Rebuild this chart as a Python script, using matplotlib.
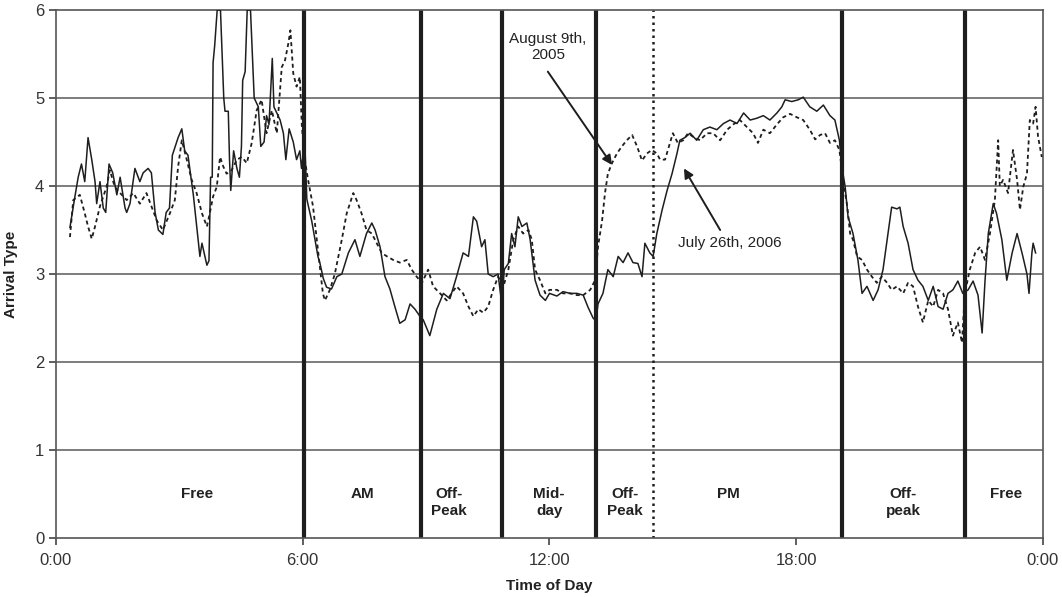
"""Arrival type by time of day, two survey days."""

import matplotlib
matplotlib.use("Agg")
import matplotlib.pyplot as plt

# July 26th, 2006 (solid)
jul_hours = [
    0.34, 0.45, 0.54, 0.62, 0.70, 0.78, 0.87, 0.95, 0.99, 1.07, 1.15, 1.21, 1.29, 1.38,
    1.48, 1.56, 1.68, 1.72, 1.80, 1.92, 2.04, 2.12, 2.24, 2.32, 2.41, 2.49, 2.60, 2.68,
    2.76, 2.83, 2.97, 3.06, 3.13, 3.21, 3.34, 3.42, 3.50, 3.55, 3.67, 3.72, 3.76, 3.80,
    3.82, 3.86, 3.92, 4.00, 4.08, 4.11, 4.19, 4.22, 4.25, 4.32, 4.40, 4.46, 4.51, 4.54,
    4.60, 4.65, 4.73, 4.82, 4.92, 4.98, 5.06, 5.12, 5.18, 5.26, 5.30, 5.45, 5.53, 5.59,
    5.67, 5.77, 5.85, 5.93, 5.97, 6.05, 6.10, 6.22, 6.37, 6.42, 6.50, 6.58, 6.70, 6.83,
    6.95, 7.11, 7.27, 7.39, 7.55, 7.68, 7.76, 7.88, 8.00, 8.12, 8.24, 8.36, 8.49, 8.61,
    8.73, 8.85, 8.93, 9.09, 9.26, 9.42, 9.58, 9.74, 9.90, 10.03, 10.15, 10.23, 10.35,
    10.43, 10.51, 10.63, 10.75, 10.84, 10.90, 11.00, 11.08, 11.16, 11.24, 11.33, 11.45,
    11.53, 11.65, 11.77, 11.90, 12.00, 12.18, 12.33, 12.50, 12.67, 12.82, 12.94, 13.06,
    13.13, 13.18, 13.30, 13.42, 13.55, 13.67, 13.79, 13.91, 14.03, 14.15, 14.25, 14.32,
    14.44, 14.52, 14.61, 14.74, 14.86, 14.98, 15.10, 15.17, 15.29, 15.42, 15.58, 15.74,
    15.90, 16.07, 16.23, 16.39, 16.56, 16.72, 16.88, 17.04, 17.20, 17.36, 17.53, 17.65,
    17.73, 17.89, 18.05, 18.17, 18.33, 18.50, 18.66, 18.82, 18.94, 19.05, 19.11, 19.19,
    19.26, 19.38, 19.50, 19.60, 19.72, 19.87, 19.99, 20.11, 20.23, 20.32, 20.45, 20.52,
    20.60, 20.72, 20.84, 20.96, 21.08, 21.21, 21.33, 21.45, 21.57, 21.69, 21.81, 21.93,
    22.05, 22.18, 22.30, 22.42, 22.52, 22.59, 22.67, 22.79, 22.87, 23.00, 23.12, 23.25,
    23.37, 23.49, 23.61, 23.66, 23.73, 23.76, 23.82,
]
jul_values = [
    3.53, 3.85, 4.10, 4.25, 4.05, 4.55, 4.30, 4.05, 3.80, 4.05, 3.75, 3.70, 4.25, 4.15,
    3.90, 4.10, 3.75, 3.70, 3.80, 4.20, 4.05, 4.15, 4.20, 4.15, 3.70, 3.50, 3.45, 3.70,
    3.75, 4.35, 4.55, 4.65, 4.40, 4.35, 3.90, 3.55, 3.20, 3.35, 3.10, 3.15, 4.10, 4.10,
    5.40, 5.60, 6.00, 6.00, 5.00, 4.85, 4.85, 4.30, 3.95, 4.40, 4.20, 4.10, 4.45, 5.20,
    5.30, 6.00, 6.00, 5.00, 4.90, 4.45, 4.50, 4.80, 4.70, 5.45, 4.90, 4.75, 4.60, 4.30,
    4.65, 4.50, 4.30, 4.40, 4.20, 4.50, 3.85, 3.60, 3.20, 3.12, 2.95, 2.85, 2.83, 2.97,
    3.00, 3.24, 3.39, 3.20, 3.46, 3.58, 3.50, 3.31, 2.97, 2.83, 2.63, 2.44, 2.48, 2.66,
    2.60, 2.52, 2.48, 2.30, 2.60, 2.78, 2.72, 2.97, 3.24, 3.20, 3.65, 3.60, 3.31,
    3.39, 3.00, 2.97, 3.00, 2.66, 3.05, 3.12, 3.46, 3.31, 3.65, 3.54, 3.58,
    3.39, 2.93, 2.76, 2.70, 2.78, 2.75, 2.80, 2.78, 2.78, 2.76, 2.62, 2.50,
    2.47, 2.66, 2.78, 3.05, 2.97, 3.20, 3.13, 3.24, 3.13, 3.12, 2.97, 3.35,
    3.24, 3.20, 3.46, 3.73, 3.95, 4.14, 4.37, 4.52, 4.55, 4.60, 4.52, 4.64,
    4.67, 4.64, 4.71, 4.75, 4.71, 4.83, 4.75, 4.77, 4.80, 4.75, 4.83, 4.90,
    4.98, 4.96, 4.98, 5.01, 4.90, 4.85, 4.92, 4.80, 4.75, 4.52, 4.22, 3.99,
    3.65, 3.46, 3.16, 2.78, 2.86, 2.70, 2.82, 3.05, 3.46, 3.76, 3.74, 3.76,
    3.54, 3.35, 3.05, 2.93, 2.86, 2.70, 2.86, 2.63, 2.60, 2.78, 2.82, 2.92,
    2.78, 2.82, 2.92, 2.76, 2.33, 2.92, 3.46, 3.80, 3.69, 3.39, 2.93, 3.24,
    3.46, 3.24, 3.00, 2.78, 3.24, 3.35, 3.24,
]

# August 9th, 2005 (dashed)
aug_hours = [
    0.34, 0.42, 0.58, 0.70, 0.78, 0.87, 0.95, 1.07, 1.23, 1.31, 1.43, 1.56, 1.72, 1.88,
    2.04, 2.20, 2.32, 2.45, 2.60, 2.77, 2.89, 2.97, 3.06, 3.18, 3.30, 3.42, 3.55, 3.67,
    3.74, 3.82, 3.91, 3.99, 4.07, 4.15, 4.27, 4.40, 4.52, 4.64, 4.76, 4.88, 5.00, 5.12,
    5.25, 5.37, 5.49, 5.57, 5.65, 5.70, 5.77, 5.85, 5.93, 5.98, 6.05, 6.13, 6.25, 6.37,
    6.49, 6.54, 6.66, 6.78, 6.95, 7.07, 7.23, 7.31, 7.43, 7.55, 7.68, 7.80, 7.92, 8.05,
    8.20, 8.36, 8.53, 8.65, 8.77, 8.90, 9.05, 9.17, 9.34, 9.50, 9.62, 9.74, 9.90, 10.03,
    10.15, 10.27, 10.39, 10.51, 10.63, 10.75, 10.88, 11.00, 11.12, 11.24, 11.36, 11.49,
    11.57, 11.65, 11.77, 11.90, 12.00, 12.18, 12.33, 12.50, 12.67, 12.82, 12.99, 13.11,
    13.18, 13.28, 13.35, 13.42, 13.52, 13.64, 13.76, 13.88, 14.01, 14.13, 14.25, 14.37,
    14.49, 14.61, 14.69, 14.81, 14.93, 15.00, 15.12, 15.25, 15.37, 15.49, 15.66, 15.83,
    15.98, 16.15, 16.32, 16.47, 16.63, 16.80, 16.95, 17.07, 17.20, 17.36, 17.53, 17.68,
    17.85, 18.02, 18.17, 18.33, 18.46, 18.58, 18.70, 18.82, 18.94, 19.05, 19.14, 19.24,
    19.31, 19.38, 19.48, 19.60, 19.72, 19.84, 19.96, 20.08, 20.21, 20.32, 20.45, 20.60,
    20.72, 20.84, 20.96, 21.08, 21.21, 21.33, 21.45, 21.57, 21.69, 21.81, 21.93, 22.03,
    22.10, 22.22, 22.35, 22.47, 22.59, 22.71, 22.83, 22.91, 22.95, 23.03, 23.15, 23.27,
    23.37, 23.44, 23.52, 23.61, 23.68, 23.76, 23.82, 23.88, 23.97,
]
aug_values = [
    3.42, 3.84, 3.90, 3.69, 3.54, 3.40, 3.54, 3.77, 3.99, 4.18, 3.99, 3.92, 3.84, 3.92,
    3.80, 3.92, 3.77, 3.61, 3.50, 3.69, 3.84, 4.22, 4.52, 4.30, 4.07, 3.92, 3.69, 3.54,
    3.69, 3.88, 3.99, 4.33, 4.22, 4.14, 4.18, 4.30, 4.33, 4.26, 4.49, 4.86, 4.98, 4.60,
    4.86, 4.60, 5.35, 5.43, 5.62, 5.77, 5.28, 5.13, 5.24, 4.67, 4.30, 4.07, 3.77, 3.27,
    2.78, 2.70, 2.82, 3.00, 3.39, 3.69, 3.92, 3.84, 3.69, 3.50, 3.46, 3.35, 3.24, 3.20,
    3.16, 3.13, 3.16, 3.05, 2.97, 2.90, 3.05, 2.86, 2.78, 2.70, 2.78, 2.86, 2.78, 2.63,
    2.52, 2.60, 2.56, 2.63, 2.82, 2.97, 2.86, 3.05, 3.39, 3.54, 3.46, 3.50,
    3.39, 3.05, 2.93, 2.78, 2.82, 2.82, 2.78, 2.78, 2.76, 2.76, 2.82, 2.93,
    3.31, 3.61, 3.92, 4.14, 4.26, 4.37, 4.45, 4.52, 4.58, 4.45, 4.29, 4.37,
    4.41, 4.37, 4.30, 4.30, 4.49, 4.60, 4.49, 4.52, 4.60, 4.56, 4.52, 4.60,
    4.60, 4.52, 4.64, 4.70, 4.75, 4.67, 4.60, 4.49, 4.64, 4.60, 4.70, 4.78,
    4.82, 4.78, 4.75, 4.64, 4.53, 4.58, 4.60, 4.49, 4.52, 4.41, 4.07, 3.77,
    3.46, 3.39, 3.20, 3.16, 3.05, 2.97, 2.90, 2.97, 2.90, 2.82, 2.86, 2.78,
    2.90, 2.86, 2.63, 2.45, 2.70, 2.63, 2.82, 2.78, 2.60, 2.30, 2.45, 2.22,
    2.78, 3.05, 3.24, 3.31, 3.16, 3.46, 3.84, 4.52, 4.00, 4.07, 3.92, 4.41,
    4.07, 3.73, 3.99, 4.14, 4.75, 4.71, 4.90, 4.56, 4.33,
]

# period boundaries (hours) and labels
period_bounds = [6.03, 8.87, 10.85, 13.13, 19.11, 22.10]
pm_start = 14.52
period_names = ["Free", "AM", "Off-\nPeak", "Mid-\nday", "Off-\nPeak", "PM", "Off-\npeak", "Free"]
period_label_x = [3.43, 7.44, 9.56, 11.99, 13.84, 16.34, 20.60, 23.10]

tick_hours = [0, 6, 12, 18, 24]
tick_labels = ["0:00", "6:00", "12:00", "18:00", "0:00"]

plt.rcParams["font.family"] = ["Liberation Sans", "DejaVu Sans"]

fig = plt.figure(figsize=(10.62, 5.97), dpi=100)
ax = fig.add_axes([0.0527, 0.0988, 0.9294, 0.8844])

ink = "#1e1e1e"
for y in range(1, 6):
    ax.axhline(y, color="#5a5a5a", lw=1.1, zorder=1)

for xb in period_bounds:
    ax.axvline(xb, color=ink, lw=3.0, zorder=2)
ax.axvline(pm_start, color=ink, lw=1.8, ls=(0, (1, 1.6)), zorder=2)

ax.plot(aug_hours, aug_values, color=ink, lw=1.3, ls=(0, (2.2, 1.8)), zorder=3)
ax.plot(jul_hours, jul_values, color=ink, lw=1.1, zorder=4)

for name, xh in zip(period_names, period_label_x):
    ax.text(xh, 0.58, name, ha="center", va="top", fontsize=11, fontweight="bold",
            color="#222222", linespacing=1.25)

# callouts: text and arrow drawn separately so the arrow starts under the text
arrow_kw = dict(arrowstyle="-|>", color=ink, lw=1.4, shrinkA=0, shrinkB=0, mutation_scale=14)
ax.text(11.96, 5.58, "August 9th,\n2005", ha="center", va="center", fontsize=11,
        color="#222222", linespacing=1.15)
ax.annotate("", xy=(13.52, 4.24), xytext=(11.96, 5.30), arrowprops=arrow_kw)
ax.text(16.39, 3.35, "July 26th, 2006", ha="center", va="center", fontsize=11,
        color="#222222")
ax.annotate("", xy=(15.27, 4.20), xytext=(16.15, 3.50), arrowprops=arrow_kw)

ax.set_xlim(0, 24)
ax.set_ylim(0, 6)
ax.set_xticks(tick_hours)
ax.set_xticklabels(tick_labels)
ax.set_yticks(range(0, 7))
ax.tick_params(axis="both", labelsize=12, colors="#333333", length=5, width=1.1, direction="out")
ax.tick_params(axis="x", pad=6)
for side in ["top", "right", "left", "bottom"]:
    ax.spines[side].set_color("#555555")
    ax.spines[side].set_linewidth(1.2)
ax.set_xlabel("Time of Day", fontsize=11, fontweight="bold", color="#222222", labelpad=8)
ax.set_ylabel("Arrival Type", fontsize=11, fontweight="bold", color="#222222", labelpad=12)

fig.savefig("out.png", dpi=100)
plt.close(fig)
